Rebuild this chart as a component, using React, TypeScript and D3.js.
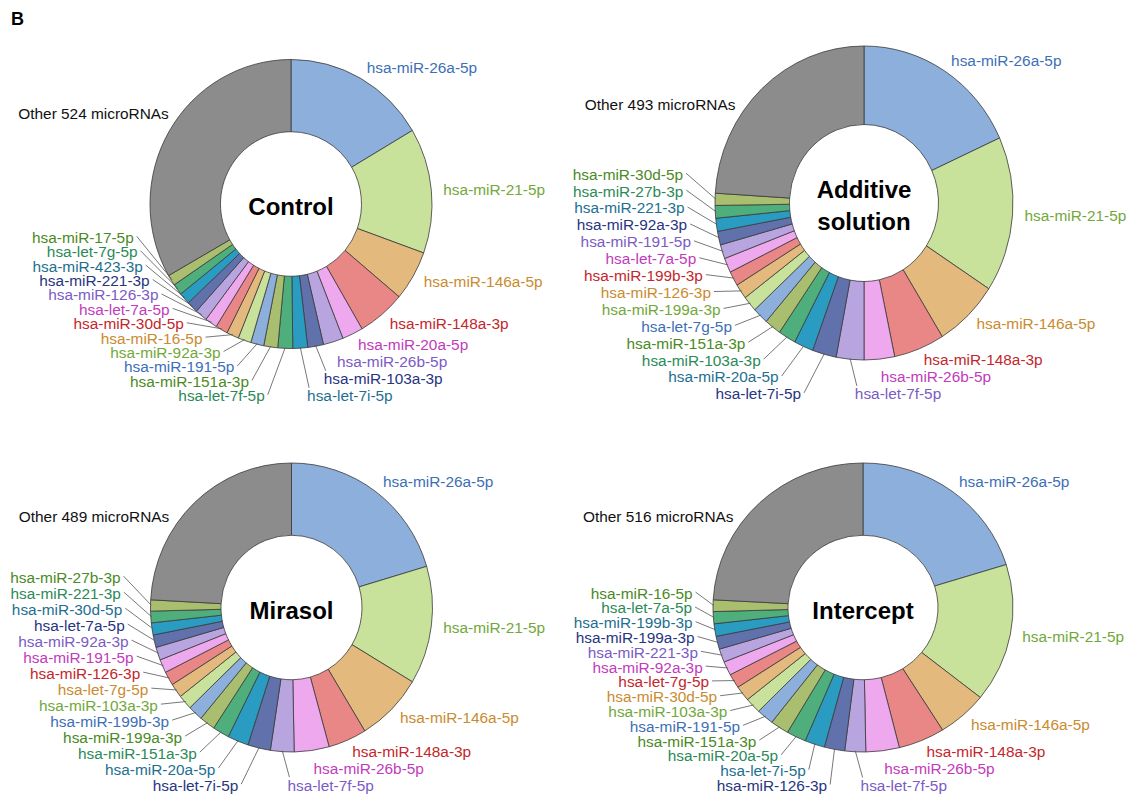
import React, { useMemo } from 'react';
import * as d3 from 'd3';

// slices go clockwise from 12 o'clock, "Other" is always the last one
const controlNames = ['hsa-miR-26a-5p', 'hsa-miR-21-5p', 'hsa-miR-146a-5p', 'hsa-miR-148a-3p', 'hsa-miR-20a-5p', 'hsa-miR-26b-5p', 'hsa-miR-103a-3p', 'hsa-let-7i-5p', 'hsa-let-7f-5p', 'hsa-miR-151a-3p', 'hsa-miR-191-5p', 'hsa-miR-92a-3p', 'hsa-miR-16-5p', 'hsa-miR-30d-5p', 'hsa-let-7a-5p', 'hsa-miR-126-3p', 'hsa-miR-221-3p', 'hsa-miR-423-3p', 'hsa-let-7g-5p', 'hsa-miR-17-5p'];
const controlValues = [16.5, 14.0, 5.6, 5.5, 2.4, 2.3, 1.8, 1.7, 1.7, 1.6, 1.5, 1.5, 1.4, 1.4, 1.4, 1.4, 1.3, 1.3, 1.25, 1.2];
const controlOther = 33.25;

const additiveNames = ['hsa-miR-26a-5p', 'hsa-miR-21-5p', 'hsa-miR-146a-5p', 'hsa-miR-148a-3p', 'hsa-miR-26b-5p', 'hsa-let-7f-5p', 'hsa-let-7i-5p', 'hsa-miR-20a-5p', 'hsa-miR-103a-3p', 'hsa-miR-151a-3p', 'hsa-let-7g-5p', 'hsa-miR-199a-3p', 'hsa-miR-126-3p', 'hsa-miR-199b-3p', 'hsa-let-7a-5p', 'hsa-miR-191-5p', 'hsa-miR-92a-3p', 'hsa-miR-221-3p', 'hsa-miR-27b-3p', 'hsa-miR-30d-5p'];
const additiveValues = [18.2, 16.0, 7.0, 5.5, 3.3, 3.0, 2.6, 2.1, 1.9, 1.8, 1.7, 1.6, 1.55, 1.5, 1.5, 1.45, 1.4, 1.35, 1.3, 1.25];
const additiveOther = 24.0;

const mirasolNames = ['hsa-miR-26a-5p', 'hsa-miR-21-5p', 'hsa-miR-146a-5p', 'hsa-miR-148a-3p', 'hsa-miR-26b-5p', 'hsa-let-7f-5p', 'hsa-let-7i-5p', 'hsa-miR-20a-5p', 'hsa-miR-151a-3p', 'hsa-miR-199a-3p', 'hsa-miR-199b-3p', 'hsa-miR-103a-3p', 'hsa-let-7g-5p', 'hsa-miR-126-3p', 'hsa-miR-191-5p', 'hsa-miR-92a-3p', 'hsa-let-7a-5p', 'hsa-miR-30d-5p', 'hsa-miR-221-3p', 'hsa-miR-27b-3p'];
const mirasolValues = [20.4, 13.2, 7.7, 4.4, 4.0, 2.7, 2.6, 2.4, 1.9, 1.8, 1.7, 1.65, 1.6, 1.55, 1.5, 1.45, 1.4, 1.35, 1.3, 1.25];
const mirasolOther = 24.15;

const interceptNames = ['hsa-miR-26a-5p', 'hsa-miR-21-5p', 'hsa-miR-146a-5p', 'hsa-miR-148a-3p', 'hsa-miR-26b-5p', 'hsa-let-7f-5p', 'hsa-miR-126-3p', 'hsa-let-7i-5p', 'hsa-miR-20a-5p', 'hsa-miR-151a-3p', 'hsa-miR-191-5p', 'hsa-miR-103a-3p', 'hsa-miR-30d-5p', 'hsa-let-7g-5p', 'hsa-miR-92a-3p', 'hsa-miR-221-3p', 'hsa-miR-199a-3p', 'hsa-miR-199b-3p', 'hsa-let-7a-5p', 'hsa-miR-16-5p'];
const interceptValues = [20.2, 15.5, 5.4, 5.0, 3.6, 2.25, 2.2, 2.15, 2.1, 2.0, 1.85, 1.75, 1.7, 1.6, 1.55, 1.5, 1.45, 1.4, 1.35, 1.3];
const interceptOther = 24.15;

const otherLabels = ['Other 524 microRNAs', 'Other 493 microRNAs', 'Other 489 microRNAs', 'Other 516 microRNAs'];
const titles = [['Control'], ['Additive', 'solution'], ['Mirasol'], ['Intercept']];

// excel-like pastel cycle + darker text colours
const fills = ['#8DAFDC', '#C8E19B', '#E4B97E', '#E98787', '#EEA8EE', '#B8A4DF', '#6171AC', '#2B9CC1', '#4EAF7D', '#A9BE6F'];
const inks = ['#3D6FB6', '#72A83B', '#C98B2F', '#C4262C', '#C23BBC', '#7B5BC5', '#28357F', '#1E6F8F', '#2B8A57', '#4A8A24'];
const otherFill = '#8C8C8C';

const FONT = 'Liberation Sans, Arial, Helvetica, sans-serif';
const LABEL_SIZE = 15.4;
const RIGHT_STEP = 17;

const configs = [
    { names: controlNames, values: controlValues, other: controlOther, cx: 291, cy: 204, rx: 141, ry: 144.5, rightCount: 8, step: 14.4, gap: -20 },
    { names: additiveNames, values: additiveValues, other: additiveOther, cx: 864, cy: 203, rx: 149, ry: 157, rightCount: 6, step: 16.9, gap: -20 },
    { names: mirasolNames, values: mirasolValues, other: mirasolOther, cx: 291.5, cy: 607.5, rx: 141, ry: 144.5, rightCount: 6, step: 16, gap: -18 },
    { names: interceptNames, values: interceptValues, other: interceptOther, cx: 863, cy: 607.5, rx: 150, ry: 144.5, rightCount: 6, step: 14.8, gap: -5 },
];

const buildChart = (cfg, idx) => {
    const { cx, cy, rx, ry } = cfg;
    const data = cfg.names.map((name, i) => ({ name, value: cfg.values[i], fill: fills[i % 10], ink: inks[i % 10] }))
        .concat([{ name: otherLabels[idx], value: cfg.other, fill: otherFill, ink: '#111' }]);

    const pie = d3.pie().sort(null).value(d => d.value);
    const arc = d3.arc().innerRadius(rx * 0.5).outerRadius(rx);
    const arcs = pie(data);

    const mid = a => (a.startAngle + a.endAngle) / 2;
    const pt = (ang, dr) => [cx + (rx + dr) * Math.sin(ang), cy - (ry + dr) * Math.cos(ang)];

    const labels = [];
    // right hand side: natural position, pushed down when crowded
    let prevY = -Infinity;
    for (let i = 0; i < cfg.rightCount; i++) {
        const a = arcs[i];
        const m = mid(a);
        const [nx, ny] = pt(m, 12);
        let y = Math.max(ny, prevY + RIGHT_STEP);
        const pushed = y - ny > 12;
        const x = pushed ? nx + 6 : nx;
        const edge = pt(m, -1);
        labels.push({
            text: a.data.name, color: a.data.ink, x, y, anchor: 'start',
            line: pushed ? [edge[0], edge[1], x + 2, y - 8] : null
        });
        prevY = y;
    }
    // left stack, bottom label shares the row of the last right label
    const R2 = rx * 1.14;
    const stack = arcs.slice(cfg.rightCount, cfg.names.length);
    stack.forEach((a, k) => {
        const m = mid(a);
        const y = prevY - k * cfg.step;
        const dy = y - cy;
        const ringX = cx - Math.sqrt(Math.max(0, R2 * R2 - dy * dy));
        const natX = pt(m, 12)[0] + cfg.gap;
        const x = Math.min(natX, ringX);
        const edge = pt(m, -1);
        labels.push({
            text: a.data.name, color: a.data.ink, x, y, anchor: 'end',
            line: [x + 3, y - 1, edge[0], edge[1]]
        });
    });
    // "Other" label sits up on the left
    const otherAng = (306 / 180) * Math.PI;
    const [ox, oy] = pt(otherAng, 10);
    labels.push({ text: otherLabels[idx], color: '#111', x: ox, y: oy, anchor: 'end', line: null });

    return { cfg, arcs, arc, labels, title: titles[idx] };
};

const Donut = ({ chart }) => {
    const { cfg, arcs, arc, labels, title } = chart;
    const k = cfg.ry / cfg.rx;
    return (
        <g>
            <g transform={`translate(${cfg.cx},${cfg.cy}) scale(1,${k})`}>
                {arcs.map((a, i) => (
                    <path key={i} d={arc(a)} fill={a.data.fill} stroke="#3a3a3a" strokeWidth={0.8}
                        vectorEffect="non-scaling-stroke" />
                ))}
            </g>
            {labels.map((l, i) => l.line && (
                <line key={'l' + i} x1={l.line[0]} y1={l.line[1]} x2={l.line[2]} y2={l.line[3]}
                    stroke="#555" strokeWidth={0.8} />
            ))}
            {labels.map((l, i) => (
                <text key={'t' + i} x={l.x} y={l.y} dy="0.35em" textAnchor={l.anchor} fill={l.color}
                    fontSize={LABEL_SIZE}>{l.text}</text>
            ))}
            {title.map((t, i) => (
                <text key={'c' + i} x={cfg.cx} y={cfg.cy + 3 + (i - (title.length - 1) / 2) * 32} dy="0.35em"
                    textAnchor="middle" fontWeight="bold" fontSize={24} fill="#000">{t}</text>
            ))}
        </g>
    );
};

export default function App() {
    const charts = useMemo(() => configs.map(buildChart), []);
    return (
        <svg width={1137} height={794} fontFamily={FONT}
            style={{ position: 'absolute', left: 0, top: 0, background: '#fff' }}>
            <rect width={1137} height={794} fill="#fff" />
            <text x={11} y={25} fontWeight="bold" fontSize={18} fill="#000">B</text>
            {charts.map((c, i) => <Donut key={i} chart={c} />)}
        </svg>
    );
}
